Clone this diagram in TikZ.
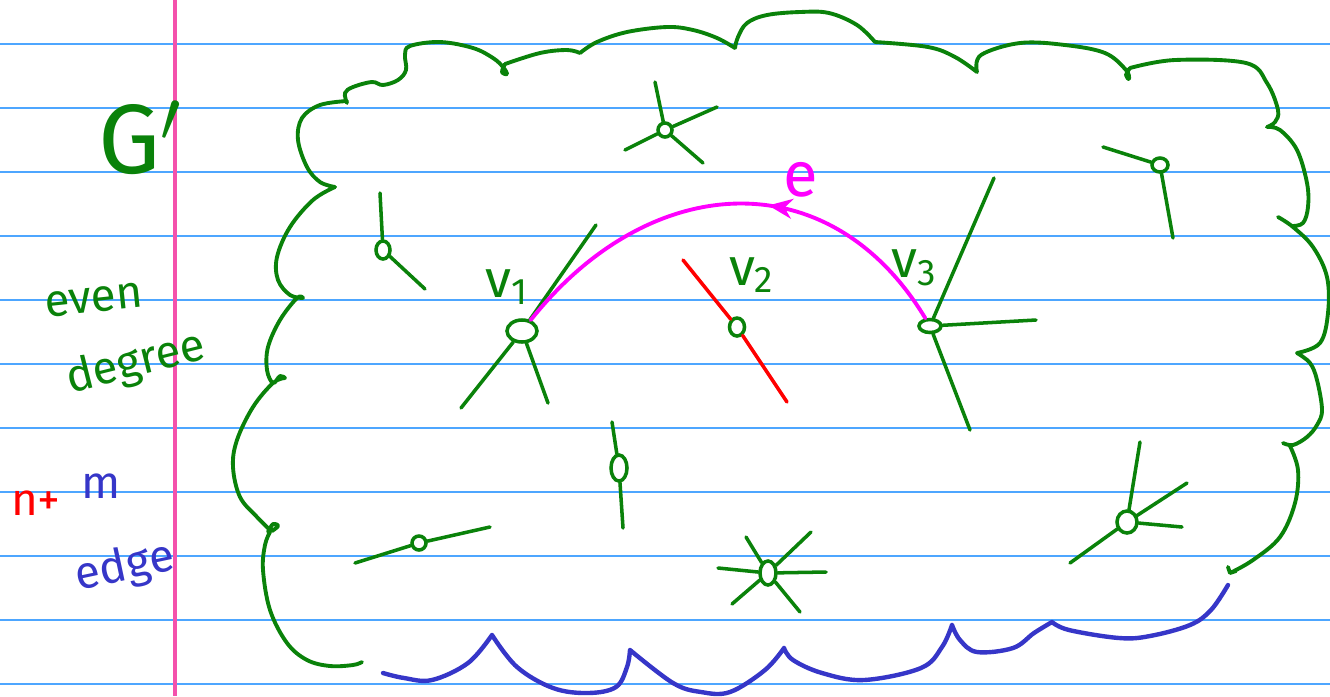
\documentclass[tikz,border=0pt]{standalone}
\usepackage{fontspec}
\setmainfont{Fira Sans}
\usetikzlibrary{arrows.meta,positioning,shapes.geometric,decorations.markings}
\definecolor{Rule}{HTML}{4DA6FF}
\definecolor{Margin}{HTML}{F451AC}
\definecolor{Leaf}{HTML}{0A820A}
\definecolor{Plum}{HTML}{FF00FF}
\definecolor{Cherry}{HTML}{FF0000}
\definecolor{Ink}{HTML}{3636C8}
\tikzset{
  rule/.style={draw=Rule,line width=0.6pt},
  margin/.style={draw=Margin,line width=0.9pt},
  cloud/.style={draw=Leaf,line width=1.1pt,line cap=round,line join=round},
  base/.style={draw=Ink,line width=1.25pt,line cap=round,line join=round},
  vtx/.style={draw=Leaf,ellipse,line width=1pt,inner sep=0pt,minimum width=1.4mm,minimum height=1.4mm},
  stub/.style={draw=Leaf,line width=1pt,line cap=round},
  redstub/.style={stub,draw=Cherry},
  eline/.style={color=Plum,line width=1.1pt,line cap=round,postaction={decorate},
    decoration={markings,mark=at position 0.58 with {\arrowreversed{Stealth[length=2.4mm,width=2mm]}}}},
  hand/.style={font=\fontsize{13}{15}\selectfont,inner sep=0pt},
  vlabel/.style={font=\fontsize{15}{17}\selectfont,inner sep=0pt,text=Leaf}
}

\begin{document}
\begin{tikzpicture}[x=0.01cm,y=-0.01cm]
  \useasboundingbox (0,0) rectangle (1330,696);
  \fill[white] (0,0) rectangle (1330,696);
  % ruled paper
  \foreach \k in {0,...,10}
    \draw[rule] (0,{44+64*\k}) -- (1330,{44+64*\k});
  \draw[margin] (175,0) -- (175,696);

  % notes in the margin
  \node[hand,text=Leaf,font=\fontsize{28}{30}\selectfont] (gname) at (140,138) {G$'$};
  \node[hand,text=Leaf,rotate=6] (even) at (94,300) {even};
  \node[hand,text=Leaf,rotate=14] (deg) at (136,364) {degree};
  \node[hand,text=Cherry] (nplus) at (36,503) {n+};
  \node[hand,text=Ink] (mname) at (101,486) {m};
  \node[hand,text=Ink,rotate=12] (edge) at (125,568) {edge};

  % outline of G'
  \draw[cloud]
    plot[smooth,tension=0.6] coordinates {(362,662) (353,665) (330,666) (307,660) (287,643) (270,610) (263,570) (265,545) (270,532)}
    plot[smooth,tension=0.6] coordinates {(272,531) (278,526) (273,524) (268,532)}
    plot[smooth,tension=0.6] coordinates {(270,530) (257,517) (240,497) (233,467) (237,440) (253,407) (273,383) (285,378)}
    plot[smooth,tension=0.6] coordinates {(285,378) (280,376) (273,383) (267,370) (268,347) (280,320) (297,298) (303,298)}
    plot[smooth,tension=0.6] coordinates {(303,298) (290,295) (278,280) (277,257) (290,227) (313,200) (335,187)}
    plot[smooth,tension=0.6] coordinates {(335,187) (320,182) (307,167) (298,140) (302,118) (320,105) (347,101)}
    plot[smooth,tension=0.6] coordinates {(347,103) (345,93) (353,87) (372,82) (383,85) (398,80) (406,70) (405,55) (410,46) (440,42) (473,48) (493,58) (503,67) (507,74) (502,72) (505,64)}
    plot[smooth,tension=0.6] coordinates {(505,64) (540,53) (567,50) (580,53)}
    plot[smooth,tension=0.6] coordinates {(580,53) (597,42) (627,32) (667,27) (693,30) (717,38) (735,48)}
    plot[smooth,tension=0.6] coordinates {(735,48) (738,37) (747,23) (767,15) (800,12) (829,13) (857,25) (875,42)}
    plot[smooth,tension=0.6] coordinates {(875,42) (928,47) (955,57) (977,72)}
    plot[smooth,tension=0.6] coordinates {(977,72) (981,55) (1020,43) (1065,45) (1105,53) (1126,70) (1129,79) (1126,75) (1130,68)}
    plot[smooth,tension=0.6] coordinates {(1130,68) (1175,60) (1246,63) (1267,83) (1278,110) (1275,122) (1267,127)}
    plot[smooth,tension=0.6] coordinates {(1267,127) (1280,130) (1297,150) (1307,183) (1308,207) (1303,223) (1292,226)}
    plot[smooth,tension=0.6] coordinates {(1278,217) (1293,227) (1313,247) (1327,277) (1328,313) (1320,343) (1297,353)}
    plot[smooth,tension=0.6] coordinates {(1297,353) (1310,363) (1317,380) (1322,410) (1317,425) (1307,437) (1293,445) (1283,443)}
    plot[smooth,tension=0.6] coordinates {(1290,446) (1298,470) (1295,503) (1280,537) (1253,560) (1230,573)}
    plot coordinates {(1228,567) (1230,573) (1236,571)};
  \draw[base]
    plot[smooth,tension=0.6] coordinates {(1228,585) (1211,610) (1190,625) (1150,636) (1119,638) (1069,630) (1052,622)}
    plot[smooth,tension=0.6] coordinates {(1052,622) (1034,633) (1013,648) (977,652) (960,640) (952,625)}
    plot[smooth,tension=0.6] coordinates {(952,625) (942,647) (921,668) (864,680) (822,673) (793,660) (784,648)}
    plot[smooth,tension=0.6] coordinates {(784,648) (765,670) (730,692) (701,692) (673,683) (630,650)}
    plot[smooth,tension=0.6] coordinates {(630,650) (627,667) (616,687) (588,693) (553,688) (517,667) (492,635)}
    plot[smooth,tension=0.6] coordinates {(492,635) (468,663) (432,680) (404,678) (383,673)};

  % vertices
  \node[vtx] (vt) at (665,130) {};
  \node[vtx,minimum height=1.8mm] (vl) at (383,250) {};
  \node[vtx,minimum width=3mm,minimum height=2.2mm] (v1) at (522,331) {};
  \node[vtx,minimum width=1.5mm,minimum height=1.8mm] (v2) at (737,327) {};
  \node[vtx,minimum width=2.2mm,minimum height=1.3mm] (v3) at (930,326) {};
  \node[vtx,minimum width=1.6mm] (vr) at (1160,165) {};
  \node[vtx,minimum width=2mm,minimum height=2.2mm] (vb) at (1127,522) {};
  \node[vtx,minimum width=1.6mm,minimum height=2.6mm] (vm) at (619,468) {};
  \node[vtx] (vw) at (419,543) {};
  \node[vtx,minimum width=1.6mm,minimum height=2.4mm] (vs) at (768,573) {};

  \node[vlabel] (v1name) at (507,287) {v\textsubscript{1}};
  \node[vlabel] (v2name) at (752,275) {v\textsubscript{2}};
  \node[vlabel] (v3name) at (915,268) {v\textsubscript{3}};
  \node[vlabel,text=Plum,font=\fontsize{18}{20}\selectfont] (ename) at (801,180) {e};

  % loose ends of the edges
  \foreach \n/\x/\y in {t1/655/82, t2/717/107, t3/625/150, t4/703/163,
      l1/380/193, l2/425/289, a1/596/225, a2/461/408, a3/548/403,
      b1/683/260, b2/787/402, c1/994/178, c2/1036/320, c3/970/430,
      r1/1103/147, r2/1173/238, d1/1140/442, d2/1187/483, d3/1182/527, d4/1070/563,
      m1/612/422, m2/623/528, w1/355/563, w2/490/527,
      s1/746/537, s2/811/532, s3/718/568, s4/826/572, s5/732/604, s6/800/612}
    \coordinate (\n) at (\x,\y);

  \foreach \v/\e in {vt/t1, vt/t2, vt/t3, vt/t4, vl/l1, vl/l2, v1/a1, v1/a2, v1/a3,
      v3/c1, v3/c2, v3/c3, vr/r1, vr/r2, vb/d1, vb/d2, vb/d3, vb/d4,
      vm/m1, vm/m2, vw/w1, vw/w2, vs/s1, vs/s2, vs/s3, vs/s4, vs/s5, vs/s6}
    \draw[stub] (\v) -- (\e);
  \draw[redstub] (v2) -- (b1);
  \draw[redstub] (v2) -- (b2);

  % the new edge e
  \draw[eline] (v1) .. controls (650,170) and (830,160) .. (v3);
\end{tikzpicture}
\end{document}
